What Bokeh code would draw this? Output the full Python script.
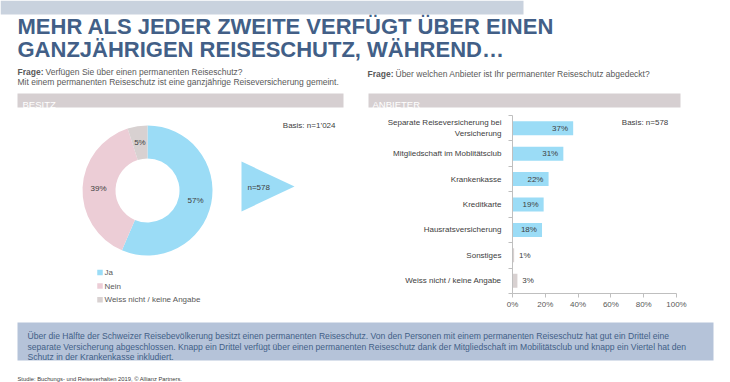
import numpy as np
from bokeh.plotting import figure
from bokeh.layouts import column, row
from bokeh.models import Range1d, FixedTicker, PrintfTickFormatter, Label
from bokeh.core.properties import value
from bokeh.embed import file_html
from bokeh.resources import INLINE

# ---------------- data ----------------
title_lines = ["MEHR ALS JEDER ZWEITE VERFÜGT ÜBER EINEN",
               "GANZJÄHRIGEN REISESCHUTZ, WÄHREND…"]
q_left_lines = ["Verfügen Sie über einen permanenten Reiseschutz?",
                "Mit einem permanenten Reiseschutz ist eine ganzjährige Reiseversicherung gemeint."]
q_right = "Über welchen Anbieter ist Ihr permanenter Reiseschutz abgedeckt?"
header_left = "BESITZ"
header_right = "ANBIETER"

own_labels = ["Ja", "Nein", "Weiss nicht / keine Angabe"]
own_values = [57, 39, 5]
own_base = "Basis: n=1’024"
arrow_label = "n=578"

prov_labels = ["Separate Reiseversicherung bei\nVersicherung",
               "Mitgliedschaft im Moblitätsclub",
               "Krankenkasse",
               "Kreditkarte",
               "Hausratsversicherung",
               "Sonstiges",
               "Weiss nicht / keine Angabe"]
prov_values = [37, 31, 22, 19, 18, 1, 3]
prov_base = "Basis: n=578"
x_ticks = [0, 20, 40, 60, 80, 100]

summary_lines = [
    "Über die Hälfte der Schweizer Reisebevölkerung besitzt einen permanenten Reiseschutz. Von den Personen mit einem permanenten Reiseschutz hat gut ein Drittel eine",
    "separate Versicherung abgeschlossen. Knapp ein Drittel verfügt über einen permanenten Reiseschutz dank der Mitgliedschaft im Mobilitätsclub und knapp ein Viertel hat den",
    "Schutz in der Krankenkasse inkludiert.",
]
source_text = "Studie: Buchungs- und Reiseverhalten 2019, © Allianz Partners."

# ---------------- styles ----------------
FONT = "Liberation Sans"
TITLE_C = "#425f87"
GRAY_T = "#595959"
DARK_T = "#404040"
BLUE = "#9bdcf6"
PINK = "#eccdd6"
LGRAY = "#d8d1d1"
HEADER_BG = "#d6cfd1"
BAND = "#c9d2de"
BOX = "#b5c3d9"
AXIS_C = "#bfbfbf"
own_colors = [BLUE, PINK, LGRAY]
prov_colors = [BLUE, BLUE, BLUE, BLUE, BLUE, LGRAY, LGRAY]


def canvas(w, h, xr, yr):
    f = figure(width=w, height=h, x_range=Range1d(*xr), y_range=Range1d(*yr),
               output_backend="svg", toolbar_location=None,
               x_axis_type=None, y_axis_type=None, min_border=0,
               outline_line_color=None, background_fill_color="white",
               border_fill_color="white", frame_align=False)
    f.xgrid.visible = False
    f.ygrid.visible = False
    return f


def txt(f, x, y, t, size="8px", color=GRAY_T, bold=False, align="left", baseline="alphabetic"):
    f.text(x=[x], y=[y], text=[t], text_font=value(FONT), text_font_size=size,
           text_color=color, text_font_style="bold" if bold else "normal",
           text_align=align, text_baseline=baseline)


# ---------------- top area (page y 0..110) ----------------
top = canvas(730, 110, (0, 730), (110, 0))
top.quad(left=[0], right=[523], top=[0], bottom=[14], fill_color=BAND, line_color=None)
txt(top, 17, 25.5, title_lines[0], size="22px", color=TITLE_C, bold=True)
txt(top, 17, 48.5, title_lines[1], size="22px", color=TITLE_C, bold=True)
txt(top, 17, 71.5, "Frage:", bold=True, size="8.5px")
txt(top, 45, 71.5, q_left_lines[0], size="8.5px")
txt(top, 17, 81.5, q_left_lines[1], size="8.5px")
txt(top, 367, 73.5, "Frage:", bold=True, size="8.5px")
txt(top, 395, 73.5, q_right, size="8.5px")
top.quad(left=[17, 368], right=[343, 680], top=[93, 93], bottom=[107, 107],
         fill_color=HEADER_BG, line_color=None)
txt(top, 22, 103.5, header_left, size="9.5px", color="white")
txt(top, 372, 103.5, header_right, size="9.5px", color="white")

# ---------------- donut (page x 0..365, y 110..312) ----------------
left = canvas(365, 202, (0, 365), (-312, -110))
cx, cy = 147, -190
frac = np.array(own_values, dtype=float) / sum(own_values)
cum = np.concatenate([[0.0], np.cumsum(frac)])
start = np.pi / 2 - 2 * np.pi * cum[:-1]
end = np.pi / 2 - 2 * np.pi * cum[1:]
left.annular_wedge(x=cx, y=cy, inner_radius=32, outer_radius=65,
                   start_angle=list(start), end_angle=list(end), direction="clock",
                   fill_color=own_colors, line_color=None)
mid = (start + end) / 2
left.text(x=list(cx + 49 * np.cos(mid)), y=list(cy + 49 * np.sin(mid)),
          text=[f"{v}%" for v in own_values], text_font=value(FONT), text_font_size="8px",
          text_color=DARK_T, text_align="center", text_baseline="middle")
txt(left, 335, -125, own_base, color=DARK_T, align="right")
left.patch(x=[241, 241, 294], y=[-161, -211, -186], fill_color=BLUE, line_color=None)
txt(left, 247, -187, arrow_label, color=DARK_T, baseline="middle")

# legend (squares + labels)
leg_y = [-272 - 13.6 * i for i in range(len(own_labels))]
left.scatter(x=[99.5] * len(own_labels), y=leg_y, marker="square", size=5.5,
             fill_color=own_colors, line_color=None)
left.text(x=[104] * len(own_labels), y=leg_y, text=own_labels, text_font=value(FONT),
          text_font_size="8px", text_color=GRAY_T, text_align="left", text_baseline="middle")

# ---------------- bar chart (page x 365..730, y 110..312) ----------------
n = len(prov_labels)
ypos = [n - i - 0.5 for i in range(n)]
right = figure(width=365, height=202, x_range=Range1d(0, 100), y_range=Range1d(0, n),
               output_backend="svg", toolbar_location=None,
               min_border_left=147, min_border_right=54, min_border_top=5, min_border_bottom=19,
               outline_line_color=None, background_fill_color="white", border_fill_color="white",
               frame_align=False)
right.xgrid.visible = False
right.ygrid.visible = False
right.hbar(y=ypos, left=0, right=prov_values, height=0.55, fill_color=prov_colors, line_color=None)

inside = [i for i, v in enumerate(prov_values) if v >= 10]
outside = [i for i, v in enumerate(prov_values) if v < 10]
right.text(x=[prov_values[i] - 8 for i in inside], y=[ypos[i] for i in inside],
           text=[f"{prov_values[i]}%" for i in inside], text_font=value(FONT),
           text_font_size="8px", text_color=DARK_T, text_align="center", text_baseline="middle")
right.text(x=[prov_values[i] + 3 for i in outside], y=[ypos[i] for i in outside],
           text=[f"{prov_values[i]}%" for i in outside], text_font=value(FONT),
           text_font_size="8px", text_color=DARK_T, text_align="left", text_baseline="middle")
right.add_layout(Label(x=95, y=n - 0.27, text=prov_base, text_align="right", text_baseline="middle",
                       text_font=FONT, text_font_size="8px", text_color=DARK_T))

ya = right.yaxis[0]
ya.ticker = FixedTicker(ticks=ypos, minor_ticks=list(range(n + 1)))
ya.major_label_overrides = {float(y): lab for y, lab in zip(ypos, prov_labels)}
ya.major_tick_out = 0
ya.major_tick_in = 0
ya.minor_tick_out = 4
ya.minor_tick_in = 0
ya.minor_tick_line_color = AXIS_C
ya.axis_line_color = AXIS_C
ya.major_label_standoff = 7
ya.major_label_text_font = FONT
ya.major_label_text_font_size = "8px"
ya.major_label_text_color = DARK_T

xa = right.xaxis[0]
xa.ticker = FixedTicker(ticks=x_ticks)
xa.formatter = PrintfTickFormatter(format="%d%%")
xa.major_tick_out = 4
xa.major_tick_in = 0
xa.major_tick_line_color = AXIS_C
xa.axis_line_color = AXIS_C
xa.major_label_standoff = 2
xa.major_label_text_font = FONT
xa.major_label_text_font_size = "8px"
xa.major_label_text_color = GRAY_T

# ---------------- bottom area (page y 312..382) ----------------
bottom = canvas(730, 70, (0, 730), (382, 312))
bottom.quad(left=[17], right=[713], top=[322], bottom=[360], fill_color=BOX, line_color=None)
for yb, line in zip([335, 346, 356.5], summary_lines):
    txt(bottom, 27, yb, line, size="8.6px", color=TITLE_C)
txt(bottom, 17, 378.5, source_text, size="5.8px", color=DARK_T)

layout = column(top, row(left, right, spacing=0), bottom, spacing=0)
open("out.html", "w").write(file_html(layout, INLINE))
